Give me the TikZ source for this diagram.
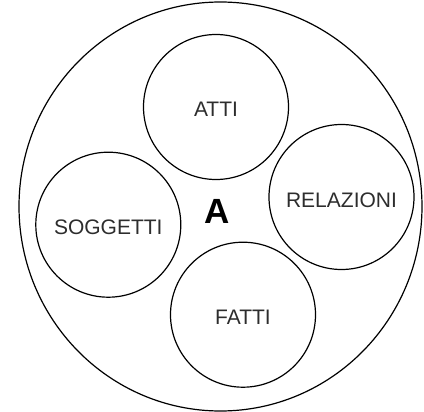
\documentclass[tikz,border=0pt]{standalone}
\usepackage{fontspec}
\setsansfont{Liberation Sans}
\usetikzlibrary{shapes.geometric}
\definecolor{txtclr}{RGB}{45,45,45}

\begin{document}
\begin{tikzpicture}[
    x=0.5pt, y=-0.5pt,
    font=\sffamily\fontsize{10.5}{12}\selectfont,
    % --- node styles ---
    part/.style  ={draw, circle, line width=0.6pt, minimum size=72.5pt,
                   inner sep=0pt, text=txtclr, text height=10pt, text depth=0pt},
    whole/.style ={draw, ellipse, line width=0.6pt, minimum width=201.5pt,
                   minimum height=204.5pt, inner sep=0pt},
]
\useasboundingbox (0,0) rectangle (424,412);

% =============== outer set ===============
\node[whole] (set) at (220.5,206.5) {};
\node[font=\sffamily\bfseries\fontsize{17.5}{20}\selectfont] (lbl) at (217.5,211) {A};

% =============== subsets ===============
\node[part] (atti)      at (216,107)     {ATTI};
\node[part] (relazioni) at (341.5,197)   {RELAZIONI};
\node[part] (soggetti)  at (108.3,224.7) {SOGGETTI};
\node[part] (fatti)     at (243,314.7)   {FATTI};

\end{tikzpicture}
\end{document}
